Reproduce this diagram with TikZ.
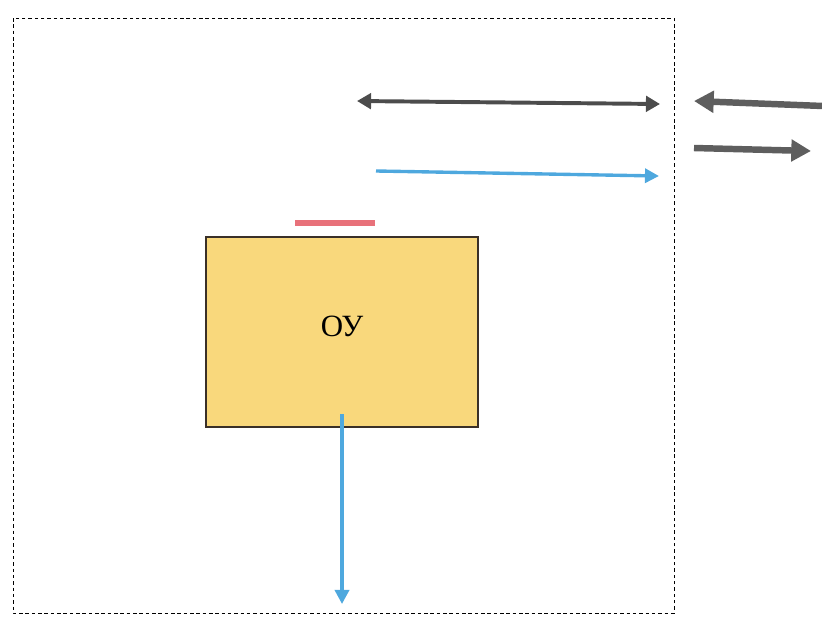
\documentclass[tikz,border=0pt]{standalone}
\usepackage{fontspec}
\setmainfont{Liberation Serif}
\usetikzlibrary{arrows.meta,positioning}
\definecolor{boxfill}{HTML}{F9D87C}
\definecolor{boxline}{HTML}{3A3028}
\definecolor{sigblue}{HTML}{4EA8DE}
\definecolor{sigred}{HTML}{E8717A}
\definecolor{darkarrow}{HTML}{4C4C4C}
\definecolor{greyarrow}{HTML}{5E5E5E}
\tikzset{
    frame/.style={draw=black,line width=0.7pt,dash pattern=on 2.5pt off 2pt},
    plant/.style={rectangle,draw=boxline,fill=boxfill,line width=0.9pt,
        minimum width=6.8cm,minimum height=4.75cm,inner sep=0pt,text depth=0.3cm,
        font=\fontsize{22}{26}\selectfont},
    redbar/.style={rectangle,fill=sigred,minimum width=2cm,minimum height=0.15cm,inner sep=0pt},
    darkline/.style={draw=darkarrow,line width=2.8pt,{Triangle[length=10pt,width=11pt]}-{Triangle[length=10pt,width=11pt]}},
    blueline/.style={draw=sigblue,line width=2.4pt,-{Triangle[length=10pt,width=10pt]}},
    greyline/.style={draw=greyarrow,line width=4.6pt,-{Triangle[length=14pt,width=15pt]}}
}
\begin{document}
\begin{tikzpicture}[x=0.025cm,y=-0.025cm]
    \useasboundingbox (0,0) rectangle (822,619);
    % outer dashed frame
    \draw[frame] (13,18) rectangle (674,613);
    % object
    \node[plant] (ou) at (342,332) {ОУ};
    \node[redbar] (bar) at (335,223) {};
    % inputs and outputs
    \coordinate (dl) at (357,101);
    \coordinate (dr) at (660,104);
    \coordinate (bl) at (376,171);
    \coordinate (br) at (659,176);
    \coordinate (ob) at (342,414);
    \coordinate (oe) at (342,604);
    \draw[darkline] (dl) -- (dr);
    \draw[blueline] (bl) -- (br);
    \draw[blueline] (ob) -- (oe);
    % outside arrows
    \coordinate (gi) at (823,106);
    \coordinate (go) at (694,101);
    \coordinate (hs) at (694,148);
    \coordinate (he) at (811,151);
    \draw[greyline] (gi) -- (go);
    \draw[greyline] (hs) -- (he);
\end{tikzpicture}
\end{document}
